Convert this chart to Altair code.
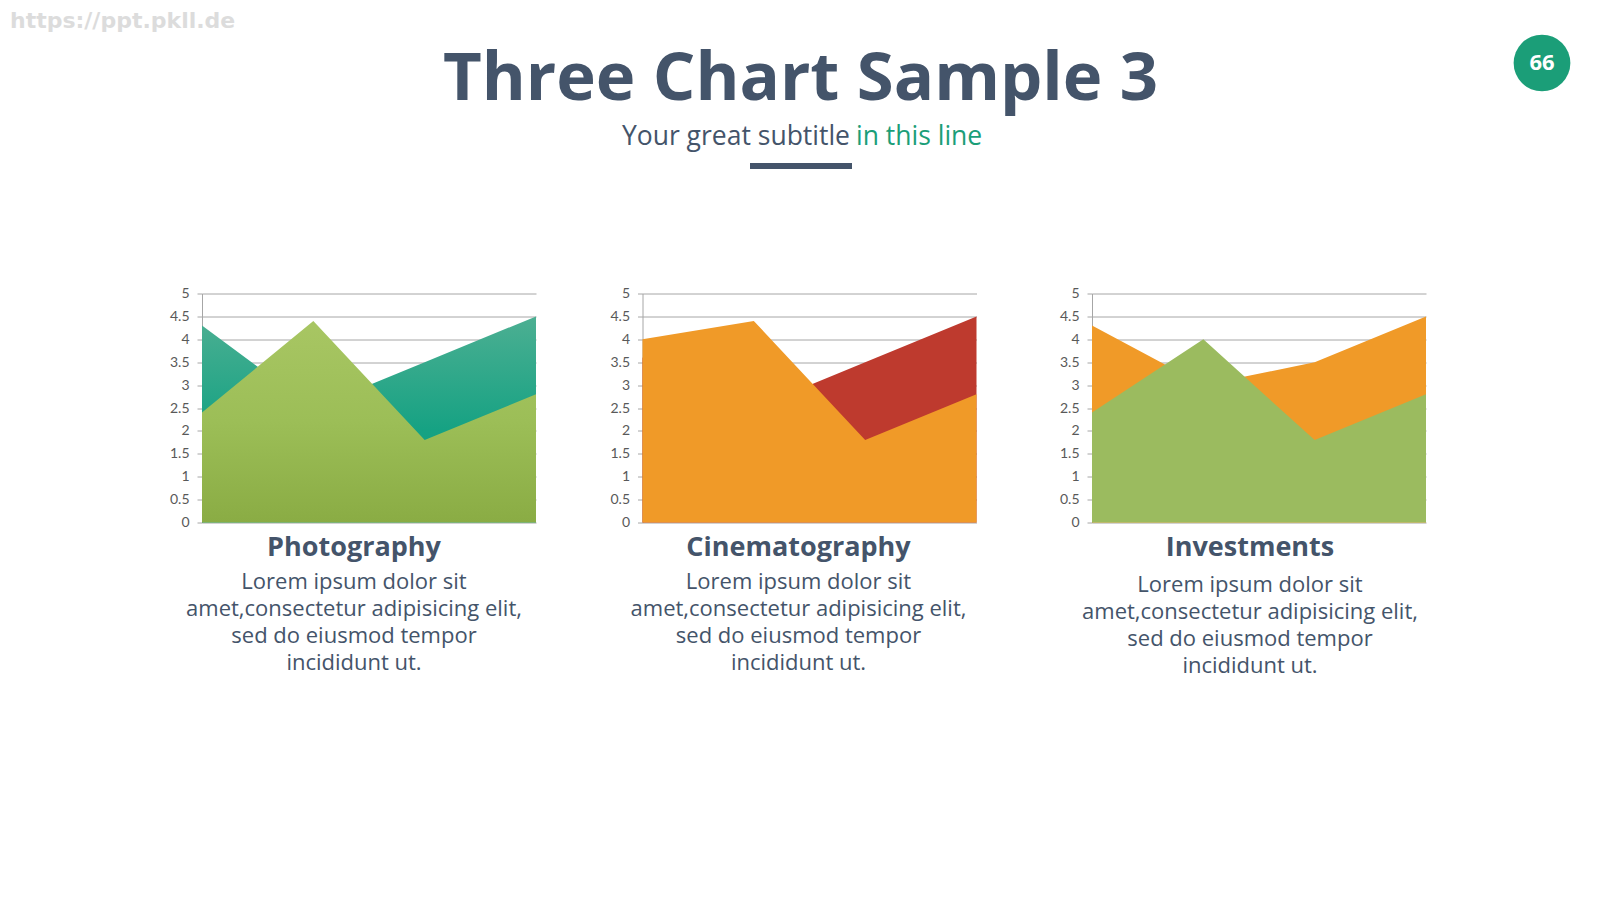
import altair as alt
import pandas as pd

# ---------------- data ----------------
categories = ["Category 1", "Category 2", "Category 3", "Category 4"]
x_index = [0, 1, 2, 3]

photo_back = [4.3, 2.5, 3.5, 4.5]
photo_front = [2.4, 4.4, 1.8, 2.8]
cine_back = [3.6, 2.5, 3.5, 4.5]
cine_front = [4.0, 4.4, 1.8, 2.8]
inv_back = [4.3, 3.0, 3.5, 4.5]
inv_front = [2.4, 4.0, 1.8, 2.8]

y_ticks = [0, 0.5, 1, 1.5, 2, 2.5, 3, 3.5, 4, 4.5, 5]

panel_titles = ["Photography", "Cinematography", "Investments"]
body_lines = ["Lorem ipsum dolor sit", "amet,consectetur adipisicing elit,",
              "sed do eiusmod tempor", "incididunt ut."]

main_title = "Three Chart Sample 3"
subtitle_dark = "Your great subtitle"
subtitle_green = "in this line"
badge_text = "66"
watermark = "https://ppt.pkll.de"

# ---------------- style ----------------
DARK = "#44546a"
TEAL = "#1b9e78"
GRID = "#a6a6a6"
FONT = "Open Sans"
W, H = 334, 229

teal_grad = alt.Gradient(gradient="linear", x1=0, x2=0, y1=0, y2=1,
                         stops=[alt.GradientStop(color="#4caf92", offset=0),
                                alt.GradientStop(color="#16a283", offset=0.55),
                                alt.GradientStop(color="#10a07f", offset=1)])
green_grad = alt.Gradient(gradient="linear", x1=0, x2=0, y1=0, y2=1,
                          stops=[alt.GradientStop(color="#a8c663", offset=0),
                                 alt.GradientStop(color="#9cbe57", offset=0.5),
                                 alt.GradientStop(color="#8aac44", offset=1)])
ORANGE = "#f09a28"
RED = "#be3a2e"
GREEN = "#9bbb5f"


def one():
    return pd.DataFrame({"i": [0]})


def yaxis():
    return alt.Axis(values=y_ticks, format=".1~f", title=None, grid=True,
                    gridColor=GRID, gridWidth=1, domainColor=GRID, tickColor=GRID,
                    tickSize=5, labelPadding=8, labelColor="#595959",
                    labelFont="Lato", labelFontSize=14, labelOverlap=False)


def panel(back, front, back_color, front_color, title, tx, body_y, extra=None):
    df = pd.DataFrame({"cat": categories, "x": x_index, "back": back, "front": front})
    base = alt.Chart(df)
    xenc = alt.X("x:Q", scale=alt.Scale(domain=[0, 3], nice=False, zero=False), axis=None)
    yscale = alt.Scale(domain=[0, 5], nice=False)
    back_area = base.mark_area(color=back_color, opacity=1).encode(
        x=xenc, y=alt.Y("back:Q", scale=yscale, axis=yaxis()))
    front_area = base.mark_area(color=front_color, opacity=1).encode(
        x=xenc, y=alt.Y("front:Q", scale=yscale, axis=yaxis()))
    t = alt.Chart(one()).mark_text(text=title, font=FONT, fontSize=27, fontWeight="bold",
                                   color=DARK, align="center", baseline="alphabetic").encode(
        x=alt.value(tx), y=alt.value(262.5))
    b = alt.Chart(one()).mark_text(text=body_lines, font=FONT, fontSize=22, lineHeight=27,
                                   color=DARK, align="center", baseline="alphabetic").encode(
        x=alt.value(tx), y=alt.value(body_y))
    layers = [back_area, front_area, t, b] + (extra or [])
    return alt.layer(*layers).properties(width=W, height=H)


# header decorations (positioned relative to panel 1 plot origin)
OX, OY = 202, 292.5
header = [
    alt.Chart(one()).mark_text(text=watermark, font="DejaVu Sans", fontSize=22, fontWeight="bold",
                               color="#dcdcdc", align="left", baseline="top").encode(
        x=alt.value(10 - OX), y=alt.value(9.5 - OY)),
    alt.Chart(one()).mark_text(text=main_title, font=FONT, fontSize=67, fontWeight="bold",
                               color=DARK, align="center", baseline="alphabetic").encode(
        x=alt.value(800.5 - OX), y=alt.value(99 - OY)),
    alt.Chart(one()).mark_text(text=subtitle_dark, font=FONT, fontSize=26.5,
                               color=DARK, align="right", baseline="alphabetic").encode(
        x=alt.value(850 - OX), y=alt.value(143.5 - OY)),
    alt.Chart(one()).mark_text(text=subtitle_green, font=FONT, fontSize=26.5,
                               color=TEAL, align="left", baseline="alphabetic").encode(
        x=alt.value(856 - OX), y=alt.value(143.5 - OY)),
    alt.Chart(one()).mark_rect(color=DARK).encode(
        x=alt.value(750 - OX), x2=alt.value(852 - OX),
        y=alt.value(162 - OY), y2=alt.value(168 - OY)),
    alt.Chart(one()).mark_circle(size=3217, color=TEAL, opacity=1).encode(
        x=alt.value(1542 - OX), y=alt.value(62 - OY)),
    alt.Chart(one()).mark_text(text=badge_text, font=FONT, fontSize=22, fontWeight="bold",
                               color="white", align="center", baseline="middle").encode(
        x=alt.value(1542 - OX), y=alt.value(62 - OY)),
]

p1 = panel(photo_back, photo_front, teal_grad, green_grad, panel_titles[0], 152, 295.8, header)
p2 = panel(cine_back, cine_front, RED, ORANGE, panel_titles[1], 156, 295.8)
p3 = panel(inv_back, inv_front, ORANGE, GREEN, panel_titles[2], 158, 298.3)

chart = alt.hconcat(
    p1,
    alt.hconcat(p2, p3, spacing=115.5, bounds="flush"),
    spacing=106.5, bounds="flush",
).properties(
    padding={"left": 2, "top": 1.5, "right": 10, "bottom": 30},
    background="white",
).configure_view(stroke=None)

chart.save("out.html", embed_options={"renderer": "svg", "actions": False})
